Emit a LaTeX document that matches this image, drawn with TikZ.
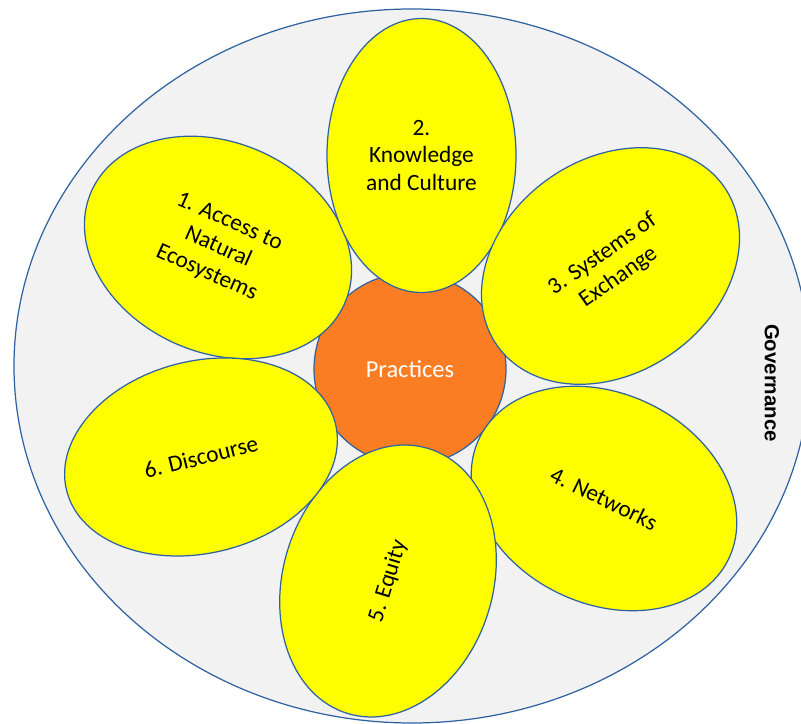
\documentclass[tikz,border=0pt]{standalone}
\usepackage{fontspec}
\setmainfont{Carlito}
\newfontfamily\govfont{Liberation Sans}
\usetikzlibrary{shapes.geometric}
\definecolor{petalyellow}{RGB}{255,255,0}
\definecolor{outlineblue}{RGB}{47,98,160}
\definecolor{centerorange}{RGB}{250,125,35}
\definecolor{backgray}{RGB}{242,242,242}
\begin{document}
\begin{tikzpicture}[
	petal/.style={ellipse,draw=outlineblue,fill=petalyellow,line width=0.7pt,inner sep=0pt,
		minimum width=5.54cm,minimum height=4.2cm,align=center,font=\fontsize{13.3}{15.9}\selectfont},
	]
	\clip (0,0) rectangle (16.02,14.46);
	\draw[outlineblue,fill=backgray,line width=0.7pt] (8.24,7.14) ellipse (7.96 and 7.14);
	\node[font=\govfont\bfseries\fontsize{11.6}{14}\selectfont,rotate=-90] (governance) at (15.44,6.80) {Governance};
	% centre
	\node[circle,draw=outlineblue,fill=centerorange,line width=0.7pt,minimum size=3.84cm,
		text=white,font=\fontsize{13.9}{15.9}\selectfont] (practices) at (8.20,7.08) {Practices};
	% petals
	\node[petal,rotate=-24] (access) at (4.36,9.51) {1. Access to\\Natural\\Ecosystems};
	\node[petal,minimum width=3.78cm,minimum height=5.48cm] (knowledge) at (8.43,11.35) {2.\\Knowledge\\and Culture};
	\node[petal,minimum height=4.28cm,rotate=35] (exchange) at (12.21,9.14) {3. Systems of\\Exchange};
	\node[petal,rotate=-26] (networks) at (12.08,4.49) {4. Networks};
	\node[petal,rotate=73] (equity) at (7.76,2.84) {5. Equity};
	\node[petal,minimum height=3.84cm,rotate=14] (discourse) at (4.02,5.32) {6. Discourse};
\end{tikzpicture}
\end{document}
